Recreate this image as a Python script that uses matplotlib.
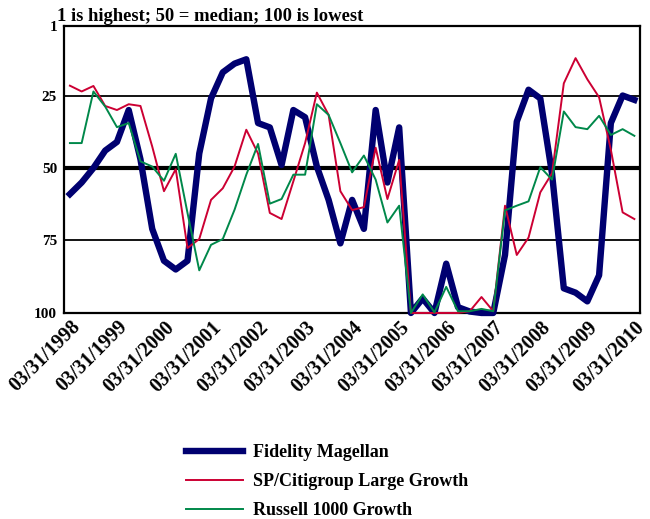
import matplotlib
matplotlib.use("Agg")
import matplotlib.pyplot as plt
import numpy as np

plt.rcParams['font.family'] = ['Liberation Serif', 'DejaVu Serif']
plt.rcParams['font.weight'] = 'bold'

# quarterly rankings, 03/31/1998 .. 03/31/2010
magellan = [59, 55, 50, 44, 41, 30, 47, 71, 82, 85, 82, 45, 26, 17, 14, 12.5,
            34.5, 36, 49, 30, 32.5, 49.5, 61, 76, 61, 71, 30, 55, 36,
            100, 95, 100, 83, 98, 99.5, 100, 100, 80, 34, 23, 26, 52,
            91.5, 93, 96, 87, 34.5, 25, 26.5]
sp_citi = [21.6, 23.6, 21.7, 28.6, 30, 28, 28.6, 42.6, 58, 50.4, 77.6, 74.5, 61,
           57, 49.5, 36.8, 45, 65.5, 67.6, 54.6, 41.4, 24, 31.7, 58, 64.5,
           63.5, 43, 60.7, 47.2, 100, 100, 100, 100, 100, 99.4, 94.5, 99.4,
           63, 80, 74, 58.4, 51.8, 20.8, 12.1, 19.4, 25.6, 43.7, 65.3, 67.6]
russell = [41.4, 41.4, 23.6, 28.8, 35.9, 34.5, 47.7, 49.5, 54.4, 45.1, 65.5,
           85.3, 76.5, 74.5, 64.4, 52.3, 41.7, 62.3, 60.7, 52.3, 52.3, 28,
           31.7, 41.4, 51.5, 45.7, 54, 68.8, 63, 100, 93.6, 99.8, 91, 99.4,
           99.4, 98.6, 99.4, 64.6, 63, 61.5, 49.7, 54, 30.5, 35.9, 36.6, 32,
           38.6, 36.6, 38.9]
years = list(range(1998, 2011))
tick_labels = ["03/31/%d" % y for y in years]
y_ticks = [1, 25, 50, 75, 100]

fig = plt.figure(figsize=(6.5, 5.19), dpi=100)
ax = fig.add_axes([0.0985, 0.397, 0.8865, 0.553])

x = np.arange(len(magellan))

for v, w in [(25, 1.3), (50, 3.0), (75, 1.3)]:
    ax.axhline(v, color='black', lw=w, zorder=1)

ax.plot(x, magellan, color='#000070', lw=4.6,
        label='Fidelity Magellan', zorder=3, clip_on=False)
ax.plot(x, sp_citi, color='#CC0033', lw=1.4, label='SP/Citigroup Large Growth',
        zorder=4, clip_on=False)
ax.plot(x, russell, color='#00884A', lw=1.4, label='Russell 1000 Growth',
        zorder=5, clip_on=False)

ax.set_xlim(-0.5, len(magellan) - 0.5)
ax.set_ylim(100, 1)
ax.set_yticks(y_ticks)
ax.set_yticklabels([str(t) for t in y_ticks], fontsize=11, fontweight='bold')
ax.set_xticks(x[::4])
ax.set_xticklabels(tick_labels, rotation=45, ha='right', va='top',
                   rotation_mode='anchor', fontsize=14.5, fontweight='bold')
ax.tick_params(axis='y', length=0, pad=5)
ax.tick_params(axis='x', length=0, pad=3)
for s in ax.spines.values():
    s.set_linewidth(1.6)

fig.text(57 / 650, 1 - 21 / 519, "1 is highest; 50 = median; 100 is lowest",
         fontsize=13.4, fontweight='bold', va='baseline', ha='left')

leg = fig.legend(loc='upper left', bbox_to_anchor=(0.272, 0.161),
                 frameon=False, fontsize=13, handlelength=3.15,
                 handletextpad=0.55, labelspacing=0.66, borderpad=0)
for t in leg.get_texts():
    t.set_fontweight('bold')

fig.savefig('out.png', dpi=100)
